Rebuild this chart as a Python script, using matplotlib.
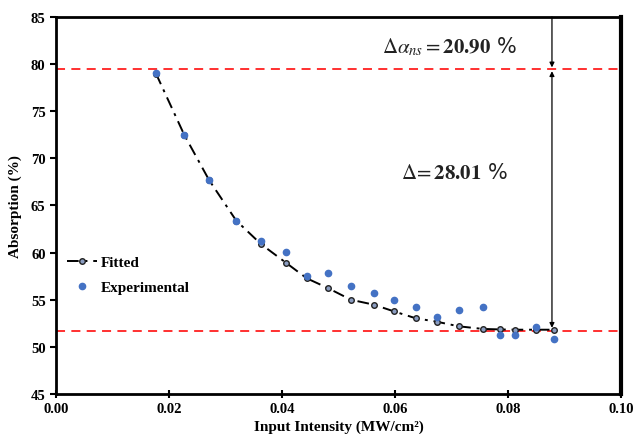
import matplotlib
matplotlib.use("Agg")
import matplotlib.pyplot as plt
import numpy as np

plt.rcParams['font.family'] = ['Liberation Serif', 'DejaVu Serif']
plt.rcParams['mathtext.fontset'] = 'stix'

# Data
intensity = [0.0177, 0.0227, 0.0271, 0.0319, 0.0363, 0.0407, 0.0444, 0.0481,
             0.0522, 0.0563, 0.0598, 0.0637, 0.0674, 0.0713, 0.0756, 0.0786,
             0.0812, 0.0850, 0.0881]
experimental = [79.06, 72.48, 67.7, 63.35, 61.2, 60.1, 57.5, 57.8,
                56.5, 55.7, 55.0, 54.2, 53.2, 53.9, 54.2, 51.3,
                51.3, 52.1, 50.8]
fitted = [79.0, 72.5, 67.7, 63.4, 60.9, 58.93, 57.27, 56.25,
          55.0, 54.47, 53.77, 53.03, 52.67, 52.18, 51.9, 51.85,
          51.82, 51.82, 51.82]
ref_top = 79.45
ref_bottom = 51.7
arrow_x = 0.0878

xticks = [0.00, 0.02, 0.04, 0.06, 0.08, 0.10]
yticks = [45, 50, 55, 60, 65, 70, 75, 80, 85]

fig = plt.figure(figsize=(6.34, 4.35), dpi=100)
ax = fig.add_axes([0.0883, 0.092, 0.891, 0.8666])

ax.axhline(ref_top, color='#ff2020', ls=(0, (5, 3.5)), lw=1.3, zorder=1)
ax.axhline(ref_bottom, color='#ff2020', ls=(0, (5, 3.5)), lw=1.3, zorder=1)

ax.plot(intensity, fitted, color='black', ls=(0, (6, 3, 1.5, 3)), lw=1.4,
        marker='o', markersize=4, markerfacecolor='#8a9cc0', markeredgecolor='#222222',
        markeredgewidth=1.0, label='Fitted', zorder=3)
ax.plot(intensity, experimental, ls='none', marker='o', markersize=4.5,
        color='#4472c4', label='Experimental', zorder=4)

ax.annotate('', xy=(arrow_x, ref_top + 0.2), xytext=(arrow_x, 85),
            arrowprops=dict(arrowstyle='-|>', color='black', lw=0.9,
                            mutation_scale=7, shrinkA=0, shrinkB=0))
ax.annotate('', xy=(arrow_x, fitted[-1] + 0.2), xytext=(arrow_x, ref_top - 0.2),
            arrowprops=dict(arrowstyle='<|-|>', color='black', lw=0.9,
                            mutation_scale=7, shrinkA=0, shrinkB=0))

ax.text(0.0577, 82.0, r'$\Delta\alpha_{ns} = \mathbf{20.90}$ %', fontsize=15,
        color='#222222', va='center', ha='left', family=['DejaVu Sans'])
ax.text(0.0610, 68.6, r'$\Delta\!= \mathbf{28.01}$ %', fontsize=15,
        color='#222222', va='center', ha='left', family=['DejaVu Sans'])

ax.set_xlim(0, 0.10)
ax.set_ylim(45, 85)
ax.set_xticks(xticks)
ax.set_yticks(yticks)
ax.set_xticklabels([f'{t:.2f}' for t in xticks], fontweight='bold', fontsize=10.5)
ax.set_yticklabels([str(t) for t in yticks], fontweight='bold', fontsize=10.5)
ax.tick_params(axis='both', direction='out', length=4, width=1.5)
ax.tick_params(axis='x', direction='inout', length=6, pad=3)

for s in ax.spines.values():
    s.set_linewidth(2.0)
ax.spines['right'].set_linewidth(3.0)

ax.set_xlabel('Input Intensity (MW/cm²)', fontweight='bold', fontsize=11, labelpad=3)
ax.set_ylabel('Absorption (%)', fontweight='bold', fontsize=11, labelpad=6)

leg = ax.legend(loc='upper left', bbox_to_anchor=(0.0, 0.395), frameon=False,
                prop={'weight': 'bold', 'size': 11}, handlelength=2.0,
                handletextpad=0.2, labelspacing=0.7, borderaxespad=0.3)

fig.savefig('out.png', dpi=100)
